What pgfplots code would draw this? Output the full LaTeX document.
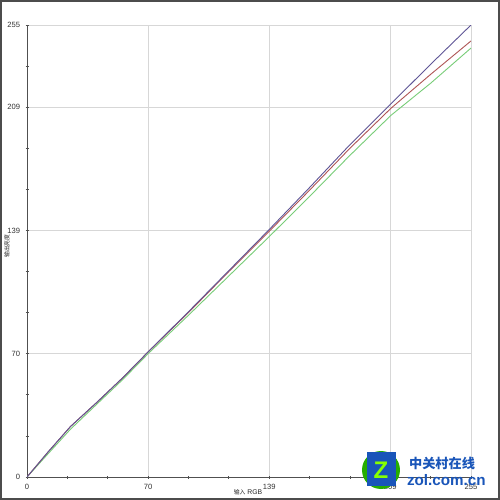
\documentclass[border=0pt]{standalone}
\usepackage{pgfplots}
\pgfplotsset{compat=1.18}
\usepackage{fontspec}
\setmainfont{Liberation Sans}
\newfontfamily\cjk{Noto Sans CJK SC}
\definecolor{bluel}{RGB}{95,85,150}
\definecolor{redl}{RGB}{175,85,85}
\definecolor{greenl}{RGB}{120,205,120}
\definecolor{gridc}{RGB}{215,215,215}
\definecolor{axc}{RGB}{80,80,80}
\definecolor{zolblue}{RGB}{25,85,185}
\begin{document}
\begin{tikzpicture}
\path[use as bounding box] (0,0) rectangle (250pt,250pt);
\fill[white] (0,0) rectangle (250pt,250pt);
\begin{axis}[
  scale only axis,
  width=222pt, height=226pt,
  at={(13.5pt,11.5pt)}, anchor=south west,
  xmin=0, xmax=255, ymin=0, ymax=255,
  axis x line=bottom, axis y line=left,
  axis line style={-, axc, line width=0.5pt},
  xtick={0,69.545,139.09,208.636,255},
  xticklabels={0,70,139,209,255},
  ytick={0,69.545,139.09,208.636,255},
  yticklabels={0,70,139,209,255},
  minor xtick={23.18,46.36,92.73,115.91,162.27,185.45,231.82},
  minor ytick={23.18,46.36,92.73,115.91,162.27,185.45,231.82},
  grid=major,
  major grid style={gridc, line width=0.4pt},
  tick align=center,
  major tick length=1.5pt, minor tick length=1.5pt,
  every tick/.style={axc, line width=0.4pt},
  tick label style={font=\fontsize{3.8}{4}\selectfont, text=gray!40!black},
  /pgf/number format/assume math mode=true,
  xticklabel style={yshift=0.8pt},
  yticklabel style={xshift=0.8pt},
  clip=true,
]
\addplot[greenl, line width=0.45pt] coordinates {
(0,0) (12,13) (25,27) (40,41) (55,55) (70,70) (93,91.5) (116,113.5) (139,135.5) (162,158) (185,181) (209,204) (232,222.3) (255,242)};
\addplot[redl, line width=0.45pt] coordinates {
(0,0) (12,14) (25,28.5) (40,42) (55,56) (70,71) (93,93) (116,116) (139,138.5) (162,161.5) (185,185) (209,208) (232,227.3) (255,246)};
\addplot[bluel, line width=0.45pt] coordinates {
(0,0) (12,14) (25,28.5) (40,42) (55,56) (70,71) (93,93.5) (116,116.5) (139,139.5) (162,163) (185,187) (209,210.5) (232,233) (255,255)};
\end{axis}
% axis titles
\node[rotate=90, font=\cjk\fontsize{2.9}{3}\selectfont, text=gray!30!black] at (3.4pt,127pt) {输出亮度};
\node[font=\fontsize{3.4}{4}\selectfont, text=gray!30!black] at (124pt,4pt) {{\cjk\fontsize{2.9}{3}\selectfont 输入} RGB};
% watermark
\fill[green!60!black!80!lime] (190.5pt,15pt) circle (9.5pt);
\fill[zolblue] (183.5pt,7pt) rectangle (198pt,24pt);
\node[font=\bfseries\fontsize{12}{12}\selectfont, text=lime!70!green] at (190.5pt,15pt) {Z};
\node[font=\cjk\bfseries\fontsize{6.6}{7}\selectfont, text=zolblue, anchor=west] at (201pt,18.5pt) {中关村在线};
\node[font=\bfseries\fontsize{7.6}{8}\selectfont, text=zolblue, anchor=west] at (200pt,10pt) {zol.com.cn};
% frame
\draw[gray!60!black, line width=1pt] (0.5pt,0.5pt) rectangle (249.5pt,249.5pt);
\end{tikzpicture}
\end{document}
